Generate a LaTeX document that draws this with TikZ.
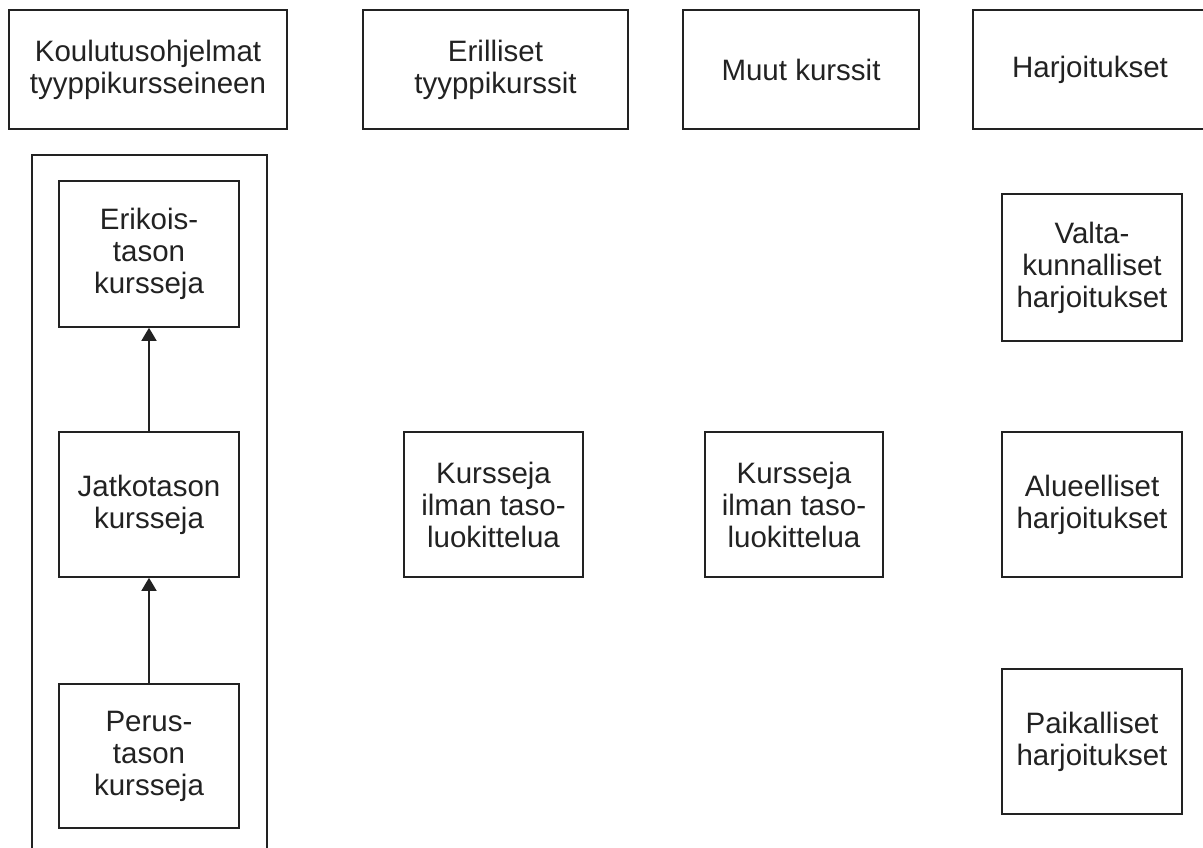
\documentclass[tikz,border=0pt]{standalone}
\usepackage{fontspec}
\setmainfont{Liberation Sans}
\usetikzlibrary{arrows.meta}
\definecolor{ink}{HTML}{222222}
\tikzset{
  box/.style={draw=ink, line width=1.6pt, rectangle, inner sep=0pt, align=center,
    text=ink, font=\fontsize{29.5}{32}\selectfont},
  link/.style={draw=ink, line width=1.6pt, -{Triangle[width=15pt,length=13pt]}}
}
\begin{document}
\begin{tikzpicture}[x=1pt,y=-1pt]
\useasboundingbox (0,0) rectangle (1203,848);
\clip (0,0) rectangle (1203,848);
% header boxes
\node[box, minimum width=278pt, minimum height=119pt] (k1) at (148,69.5) {Koulutusohjelmat\\tyyppikursseineen};
\node[box, minimum width=265pt, minimum height=119pt] (k2) at (495.5,69.5) {Erilliset\\tyyppikurssit};
\node[box, minimum width=236pt, minimum height=119pt] (k3) at (801,69.5) {Muut kurssit};
\node[box, minimum width=234pt, minimum height=119pt] (k4) at (1090,69.5) {Harjoitukset};
% container
\draw[draw=ink, line width=1.6pt] (32,155) rectangle (267,870);
% level boxes
\node[box, minimum width=180pt, minimum height=146pt] (e1) at (149,254) {Erikois-\\tason\\kursseja};
\node[box, minimum width=180pt, minimum height=145pt] (e2) at (149,504.5) {Jatkotason\\kursseja};
\node[box, minimum width=180pt, minimum height=144pt] (e3) at (149,756) {Perus-\\tason\\kursseja};
\draw[link] (e3.north) -- (e2.south);
\draw[link] (e2.north) -- (e1.south);
% other courses
\node[box, minimum width=179pt, minimum height=145pt] (m1) at (493.5,504.5) {Kursseja\\ilman taso-\\luokittelua};
\node[box, minimum width=178pt, minimum height=145pt] (m2) at (794,504.5) {Kursseja\\ilman taso-\\luokittelua};
% exercises
\node[box, minimum width=180pt, minimum height=147pt] (h1) at (1092,267.5) {Valta-\\kunnalliset\\harjoitukset};
\node[box, minimum width=180pt, minimum height=145pt] (h2) at (1092,504.5) {Alueelliset\\harjoitukset};
\node[box, minimum width=180pt, minimum height=145pt] (h3) at (1092,741.5) {Paikalliset\\harjoitukset};
\end{tikzpicture}
\end{document}
